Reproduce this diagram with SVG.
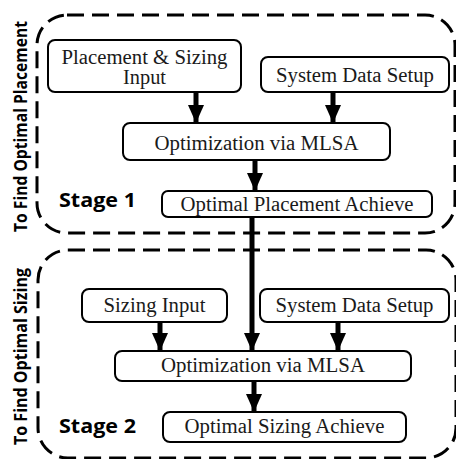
<svg xmlns="http://www.w3.org/2000/svg" width="456" height="459" viewBox="0 0 456 459">
<style>
.stage{fill:none;stroke:#000;stroke-width:3;stroke-dasharray:17 8}
.box{fill:#fff;stroke:#000;stroke-width:2}
.t{font-family:"Liberation Serif","Times New Roman",serif;font-size:20.5px;fill:#1a1a1a;text-anchor:middle}
.lbl{font-family:"Open Sans","DejaVu Sans",sans-serif;font-weight:bold;fill:#000}
.ar{stroke:#000;stroke-width:5;fill:none}
</style>
<defs>
<marker id="ah" markerUnits="userSpaceOnUse" markerWidth="20" markerHeight="16" refX="19" refY="9" orient="auto" viewBox="0 0 20 18">
<path d="M0,0 L20,9 L0,18 Z" fill="#000"/>
</marker>
</defs>
<g id="stage1">
<rect class="stage" x="37" y="15" width="418" height="218" rx="30"/>
<text class="lbl" x="59" y="207" font-size="19" textLength="77" lengthAdjust="spacingAndGlyphs">Stage 1</text>
<text class="lbl" transform="translate(27,232) rotate(-90)" font-size="17" textLength="211" lengthAdjust="spacingAndGlyphs">To Find Optimal Placement</text>
</g>
<g id="stage2">
<rect class="stage" x="38" y="250" width="418" height="208" rx="30"/>
<text class="lbl" x="59" y="433" font-size="19" textLength="77" lengthAdjust="spacingAndGlyphs">Stage 2</text>
<text class="lbl" transform="translate(27,445) rotate(-90)" font-size="17" textLength="177" lengthAdjust="spacingAndGlyphs">To Find Optimal Sizing</text>
</g>
<g id="connectors">
<line class="ar" x1="196" y1="92" x2="196" y2="122" marker-end="url(#ah)"/>
<line class="ar" x1="333" y1="92" x2="333" y2="122" marker-end="url(#ah)"/>
<line class="ar" x1="255" y1="160" x2="255" y2="190" marker-end="url(#ah)"/>
<line class="ar" x1="252" y1="217" x2="252" y2="350" marker-end="url(#ah)"/>
<line class="ar" x1="160" y1="322" x2="160" y2="350" marker-end="url(#ah)"/>
<line class="ar" x1="338" y1="322" x2="338" y2="350" marker-end="url(#ah)"/>
<line class="ar" x1="254" y1="381" x2="254" y2="411" marker-end="url(#ah)"/>
</g>
<g id="n-psi">
<rect class="box" x="48" y="40" width="193" height="52" rx="7"/>
<text class="t" x="144.5" y="64" textLength="166" lengthAdjust="spacingAndGlyphs">Placement &amp; Sizing</text>
<text class="t" x="144.5" y="84" textLength="43" lengthAdjust="spacingAndGlyphs">Input</text>
</g>
<g id="n-sds1">
<rect class="box" x="261" y="57" width="188" height="35" rx="7"/>
<text class="t" x="355" y="82" textLength="158" lengthAdjust="spacingAndGlyphs">System Data Setup</text>
</g>
<g id="n-opt1">
<rect class="box" x="123" y="123" width="267" height="37" rx="7"/>
<text class="t" x="256.5" y="150" textLength="204" lengthAdjust="spacingAndGlyphs">Optimization via MLSA</text>
</g>
<g id="n-opa">
<rect class="box" x="162" y="191" width="270" height="26" rx="6"/>
<text class="t" x="297" y="211" textLength="233" lengthAdjust="spacingAndGlyphs">Optimal Placement Achieve</text>
</g>
<g id="n-si">
<rect class="box" x="82" y="289" width="145" height="33" rx="7"/>
<text class="t" x="154.5" y="312" textLength="102" lengthAdjust="spacingAndGlyphs">Sizing Input</text>
</g>
<g id="n-sds2">
<rect class="box" x="260" y="289" width="189" height="33" rx="7"/>
<text class="t" x="354.5" y="312" textLength="158" lengthAdjust="spacingAndGlyphs">System Data Setup</text>
</g>
<g id="n-opt2">
<rect class="box" x="115" y="351" width="296" height="30" rx="7"/>
<text class="t" x="263" y="372" textLength="204" lengthAdjust="spacingAndGlyphs">Optimization via MLSA</text>
</g>
<g id="n-osa">
<rect class="box" x="163" y="412" width="243" height="30" rx="7"/>
<text class="t" x="284.5" y="433" textLength="200" lengthAdjust="spacingAndGlyphs">Optimal Sizing Achieve</text>
</g>
</svg>
